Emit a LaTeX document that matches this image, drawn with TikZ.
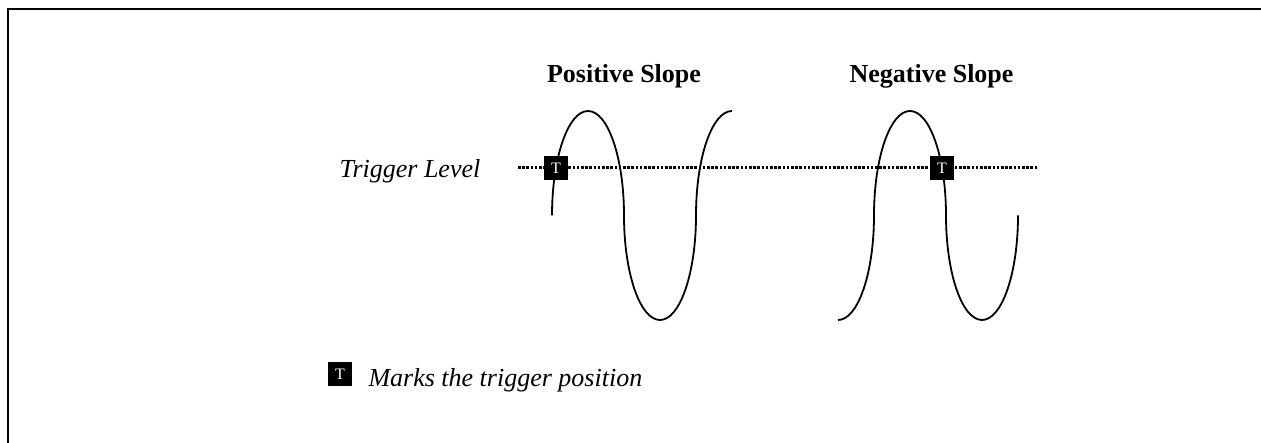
\documentclass[tikz,border=0pt]{standalone}
\usepackage{fontspec}
\setmainfont{Liberation Serif}
\usetikzlibrary{positioning}

\begin{document}
\begin{tikzpicture}[
        x=1pt, y=1pt,
        wave/.style={
            draw=black,
            line width=1.8pt,
            x radius=36pt,
            y radius=104.5pt
        },
        trigline/.style={
            draw=black,
            line width=3pt,
            dash pattern=on 2.6pt off 1.6pt
        },
        tbox/.style={
            rectangle,
            fill=black,
            text=white,
            minimum size=24pt,
            inner sep=0pt,
            font=\fontsize{16}{16}\selectfont
        },
        slopetitle/.style={
            font=\fontsize{26}{30}\selectfont\bfseries,
            anchor=base
        },
        lbltext/.style={
            font=\fontsize{26}{30}\selectfont\itshape,
            anchor=base west
        }
    ]
    \useasboundingbox (0,0) rectangle (1261,443);

    % --- MARCO ---
    \draw[line width=2.2pt] (1261,434) -- (8,434) -- (8,0);

    % --- NIVEL DE DISPARO ---
    \coordinate (lvlL) at (518,275);
    \coordinate (lvlR) at (1038,275);
    \path[trigline] (lvlL) -- (lvlR);
    \node[lbltext] (lvltext) at (336,265) {Trigger Level};

    % --- TITULOS ---
    \node[slopetitle] (postitle) at (624,360) {Positive Slope};
    \node[slopetitle] (negtitle) at (931.5,360) {Negative Slope};

    % --- SENAL PENDIENTE POSITIVA ---
    \coordinate (posstart) at (552,227.5);
    \draw[wave] (posstart)
        arc[start angle=180, end angle=90]
        arc[start angle=90, end angle=0]
        arc[start angle=180, end angle=270]
        arc[start angle=270, end angle=360]
        arc[start angle=180, end angle=90];

    % --- SENAL PENDIENTE NEGATIVA ---
    \coordinate (negstart) at (838,123);
    \draw[wave] (negstart)
        arc[start angle=270, end angle=360]
        arc[start angle=180, end angle=90]
        arc[start angle=90, end angle=0]
        arc[start angle=180, end angle=270]
        arc[start angle=270, end angle=360];

    % --- MARCAS DE DISPARO ---
    \node[tbox] (postrig) at (556,275) {\raisebox{-3pt}{T}};
    \node[tbox] (negtrig) at (942,275) {\raisebox{-3pt}{T}};

    % --- LEYENDA ---
    \node[tbox] (legbox) at (340,69) {\raisebox{-3pt}{T}};
    \node[lbltext] (legtext) at (365,56) {Marks the trigger position};
\end{tikzpicture}
\end{document}
